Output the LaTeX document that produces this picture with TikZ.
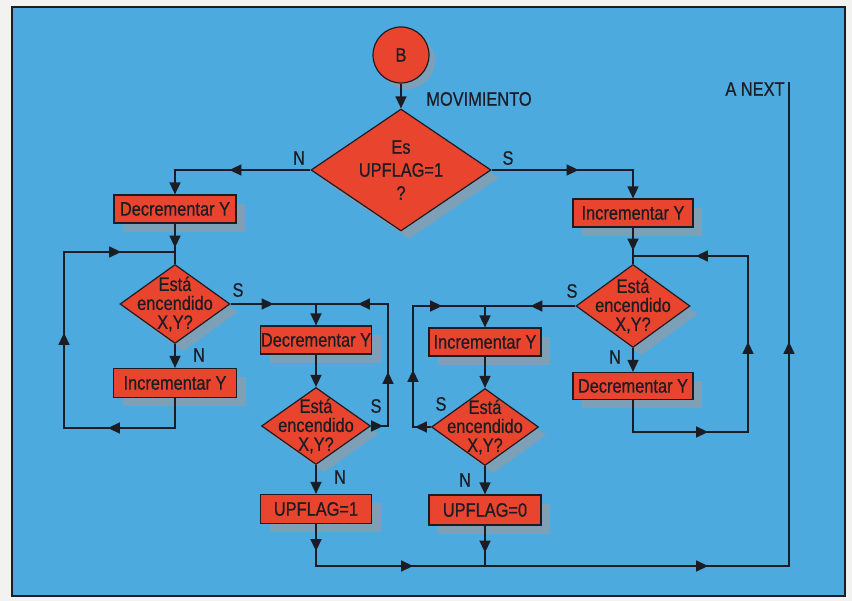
\documentclass[tikz,border=0pt]{standalone}
\usepackage{fontspec}
\setmainfont{Liberation Sans}[FakeStretch=0.84,FakeBold=0.5]
\usetikzlibrary{arrows.meta,shapes.geometric,shadows,decorations.markings}
\definecolor{panelblue}{RGB}{76,170,222}
\definecolor{boxred}{RGB}{232,68,46}
\definecolor{shadowc}{RGB}{124,160,184}
\definecolor{inkc}{RGB}{28,28,36}
\definecolor{paperc}{RGB}{242,242,240}
\begin{document}
\begin{tikzpicture}[x=1pt,y=-1pt,
  >={Triangle[length=12pt,width=11pt]},
  every node/.style={font=\fontsize{19.5}{19}\selectfont, text=inkc},
  shd/.style={drop shadow={shadow xshift=#1, shadow yshift=-#1, fill=shadowc, opacity=1}},
  box/.style={rectangle, draw=inkc, line width=1.2pt, fill=boxred, inner sep=0pt, shd=9pt},
  dia/.style={diamond, draw=inkc, line width=1.2pt, fill=boxred, inner sep=0pt, shd=8pt},
  dtext/.style={align=center, inner sep=0pt, font=\fontsize{19.5}{19}\selectfont},
  conn/.style={draw=inkc, line width=1.5pt},
  arrat/.style={postaction={decorate, decoration={markings, mark=at position #1 with {\arrow{>}}}}},
  lbl/.style={inner sep=0pt}
]
\useasboundingbox (0,0) rectangle (852,601);
\fill[paperc] (0,0) rectangle (852,601);
\draw[fill=panelblue, draw=inkc, line width=1.3pt] (12,7) rectangle (845,596);

% nodes
\node[circle, minimum size=56pt, draw=inkc, line width=1.2pt, fill=boxred, inner sep=0pt, shd=6pt] (B) at (401,55) {B};
\node[dia, minimum width=180pt, minimum height=122pt] (D1) at (401,170) {};
\node[dtext, font=\fontsize{19.5}{23}\selectfont] (D1t) at (401,170) {Es\\UPFLAG=1\\?};
\node[box, minimum width=122pt, minimum height=28pt] (DL) at (175,209) {Decrementar Y};
\node[box, minimum width=120pt, minimum height=28pt] (IR) at (633,213) {Incrementar Y};
\node[dia, minimum width=110pt, minimum height=79pt] (D2) at (175,304) {};
\node[dtext] (D2t) at (175,304) {Está\\encendido\\X,Y?};
\node[box, minimum width=123pt, minimum height=29pt] (IL) at (175,383) {Incrementar Y};
\node[box, minimum width=111pt, minimum height=28pt] (DM) at (316,340) {Decrementar Y};
\node[dia, minimum width=109pt, minimum height=77pt] (D3) at (316,426) {};
\node[dtext] (D3t) at (316,426) {Está\\encendido\\X,Y?};
\node[box, minimum width=111pt, minimum height=29pt] (U1) at (316,509) {UPFLAG=1};
\node[dia, minimum width=114pt, minimum height=83pt] (D4) at (633,306) {};
\node[dtext] (D4t) at (633,306) {Está\\encendido\\X,Y?};
\node[box, minimum width=120pt, minimum height=27pt] (DR) at (633,386) {Decrementar Y};
\node[box, minimum width=112pt, minimum height=28pt] (IM) at (485,342) {Incrementar Y};
\node[dia, minimum width=107pt, minimum height=77pt] (D5) at (485,427) {};
\node[dtext] (D5t) at (485,427) {Está\\encendido\\X,Y?};
\node[box, minimum width=112pt, minimum height=30pt] (U0) at (485,510) {UPFLAG=0};

% labels
\node[lbl] (mov) at (479,99) {MOVIMIENTO};
\node[lbl] (anext) at (755,89) {A NEXT};
\node[lbl] (n1) at (299,158) {N};
\node[lbl] (s1) at (508,158) {S};
\node[lbl] (s2) at (238,290) {S};
\node[lbl] (n2) at (199,355) {N};
\node[lbl] (s3) at (376,406) {S};
\node[lbl] (n3) at (340,477) {N};
\node[lbl] (s4) at (572,291) {S};
\node[lbl] (n4) at (615,357) {N};
\node[lbl] (s5) at (441,404) {S};
\node[lbl] (n5) at (465,480) {N};

% coordinates
\coordinate (jL) at (175,252);
\coordinate (cL) at (64,428);
\coordinate (jM) at (316,304);
\coordinate (cM) at (388,304);
\coordinate (cB) at (789,566);
\coordinate (tN) at (789,82);
\coordinate (jR) at (633,256);
\coordinate (cR) at (748,432);
\coordinate (jR2) at (485,306);
\coordinate (cR2) at (413,306);

% connectors
\draw[conn,->] (B) -- (D1);
\draw[conn,->,arrat=81pt] (D1.west) -| (DL.north);
\draw[conn,->,arrat=87pt] (D1.east) -| (IR.north);
\draw[conn,arrat=24pt] (DL.south) -- (D2.north);
\draw[conn,arrat=97pt,arrat=236pt,arrat=374pt] (IL.south) |- (cL) |- (jL);
\draw[conn,->] (D2.south) -- (IL.north);
\draw[conn,arrat=43pt] (D2.east) -- (jM);
\draw[conn,arrat=12pt,arrat=71pt,arrat=169pt] (D3.east) -| (cM) -- (jM);
\draw[conn,->] (jM) -- (DM.north);
\draw[conn,->] (DM.south) -- (D3.north);
\draw[conn,->] (D3.south) -- (U1.north);
\draw[conn,arrat=27pt,arrat=139pt,arrat=434pt,arrat=739pt] (U1.south) |- (cB) -- (tN);
\draw[conn,arrat=27pt] (U0.south) -- (U0.south |- cB);
\draw[conn,arrat=23pt] (IR.south) -- (D4.north);
\draw[conn,arrat=107pt,arrat=237pt,arrat=375pt] (DR.south) |- (cR) |- (jR);
\draw[conn,->] (D4.south) -- (DR.north);
\draw[conn,arrat=45pt] (D4.west) -- (jR2);
\draw[conn,arrat=16pt,arrat=75pt,arrat=168pt] (D5.west) -| (cR2) -- (jR2);
\draw[conn,->] (jR2) -- (IM.north);
\draw[conn,->] (IM.south) -- (D5.north);
\draw[conn,->] (D5.south) -- (U0.north);
\end{tikzpicture}
\end{document}
